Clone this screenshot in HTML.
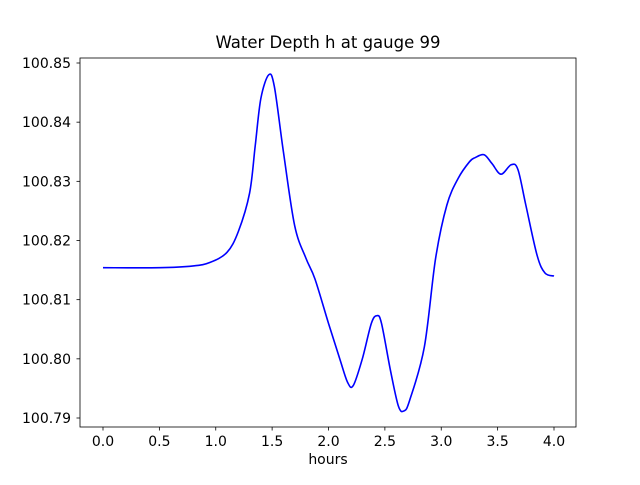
<!DOCTYPE html>
<html><head><meta charset="utf-8"><style>
body{margin:0;background:#fff;font-family:"Liberation Sans",sans-serif;}
svg text{font-family:"DejaVu Sans","Liberation Sans",sans-serif;}
</style></head><body>
<svg id="chart" width="640" height="480" xmlns="http://www.w3.org/2000/svg">
<rect width="640" height="480" fill="#fff"/>
<text x="328" y="48" text-anchor="middle" font-size="16.5">Water Depth h at gauge 99</text>
<g id="xt"></g><g id="yt"></g>
<path id="line" fill="none" stroke="#0000ff" stroke-width="1.6"/>
<rect x="80" y="58" width="496" height="369" fill="none" stroke="#000" stroke-width="0.8"/>
<text x="328" y="464" text-anchor="middle" font-size="14">hours</text>
</svg>
<script>
const hours=[0,0.5,0.8,0.95,1.1,1.2,1.3,1.35,1.4,1.47,1.52,1.6,1.7,1.8,1.88,2.0,2.1,2.17,2.22,2.3,2.38,2.43,2.47,2.55,2.62,2.67,2.72,2.85,2.95,3.05,3.15,3.25,3.3,3.38,3.45,3.53,3.62,3.68,3.75,3.85,3.92,4.0];
const depth=[100.8154,100.8154,100.8157,100.8163,100.818,100.8215,100.828,100.836,100.844,100.848,100.846,100.835,100.8225,100.817,100.8135,100.806,100.8,100.796,100.7955,100.8,100.806,100.8073,100.806,100.798,100.792,100.7912,100.793,100.802,100.817,100.826,100.8305,100.8333,100.834,100.8345,100.833,100.8312,100.8328,100.832,100.826,100.8175,100.8145,100.814];
const xTicks=[0,0.5,1,1.5,2,2.5,3,3.5,4];
const xTickLabels=["0.0","0.5","1.0","1.5","2.0","2.5","3.0","3.5","4.0"];
const yTicks=[100.79,100.8,100.81,100.82,100.83,100.84,100.85];
const yTickLabels=["100.79","100.80","100.81","100.82","100.83","100.84","100.85"];
const X=v=>103+v*112.75;
const Y=v=>418-(v-100.79)/0.06*355;
const NS="http://www.w3.org/2000/svg";
const xt=document.getElementById('xt'),yt=document.getElementById('yt');
xTicks.forEach((t,i)=>{
 const l=document.createElementNS(NS,'line');
 l.setAttribute('x1',X(t));l.setAttribute('x2',X(t));l.setAttribute('y1',427);l.setAttribute('y2',430.5);l.setAttribute('stroke','#000');l.setAttribute('stroke-width','0.8');
 
 
 xt.appendChild(l);
 const s=document.createElementNS(NS,'text');
 s.setAttribute('x',X(t));s.setAttribute('y',446);s.setAttribute('text-anchor','middle');s.setAttribute('font-size','14');
 s.textContent=xTickLabels[i];
 
 
 xt.appendChild(s);
});
yTicks.forEach((t,i)=>{
 const l=document.createElementNS(NS,'line');
 l.setAttribute('x1',76.5);l.setAttribute('x2',80);l.setAttribute('y1',Y(t));l.setAttribute('y2',Y(t));l.setAttribute('stroke','#000');l.setAttribute('stroke-width','0.8');
 
 
 yt.appendChild(l);
 const s=document.createElementNS(NS,'text');
 s.setAttribute('x',71);s.setAttribute('y',Y(t)+5);s.setAttribute('text-anchor','end');s.setAttribute('font-size','14');
 s.textContent=yTickLabels[i];
 
 
 yt.appendChild(s);
});
const pts=hours.map((h,i)=>[X(h),Y(depth[i])]);
let d=`M${pts[0][0]},${pts[0][1]}`;
for(let i=0;i<pts.length-1;i++){
 const p0=pts[Math.max(0,i-1)],p1=pts[i],p2=pts[i+1],p3=pts[Math.min(pts.length-1,i+2)];
 const c1=[p1[0]+(p2[0]-p0[0])/6,p1[1]+(p2[1]-p0[1])/6];
 const c2=[p2[0]-(p3[0]-p1[0])/6,p2[1]-(p3[1]-p1[1])/6];
 d+=` C${c1[0]},${c1[1]} ${c2[0]},${c2[1]} ${p2[0]},${p2[1]}`;
}
document.getElementById('line').setAttribute('d',d);
</script>
</body></html>
